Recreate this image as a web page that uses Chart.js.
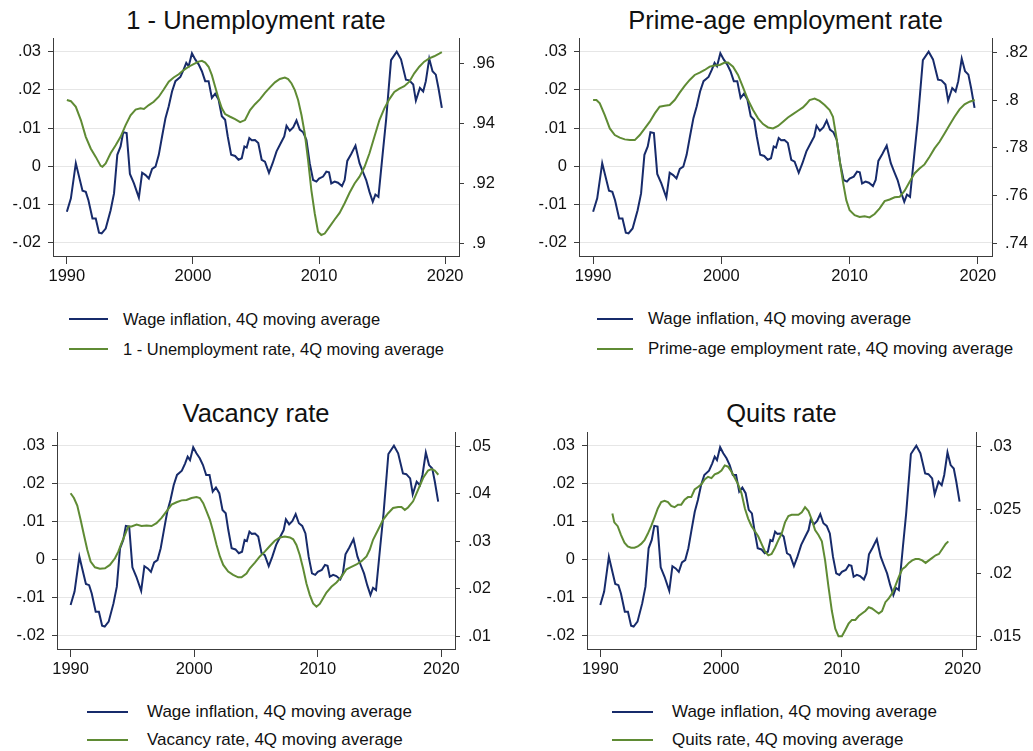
<!DOCTYPE html>
<html>
<head>
<meta charset="utf-8">
<title>Wage inflation and labour market slack</title>
<script src="https://cdn.jsdelivr.net/npm/chart.js@4.4.1/dist/chart.umd.min.js"></script>
<style>
  html, body { margin: 0; padding: 0; background: #fff; overflow: hidden; }
  body { width: 1033px; height: 751px; position: relative;
         font-family: "Liberation Sans", Arial, Helvetica, sans-serif; color: #111; }
  canvas { position: absolute; }
  .title { position: absolute; font-size: 25.5px; line-height: 25px; white-space: nowrap;
           transform: translateX(-50%); }
  .leg-row { position: absolute; height: 30px; display: flex; align-items: center;
             white-space: nowrap; }
  .leg-row .sw { display: inline-block; height: 2px; flex: none; }
</style>
</head>
<body>
<script>
// ---- data: 4-quarter moving averages, dates in decimal years ----
const wageYears = [1990.00,1990.32,1990.71,1991.24,1991.50,1991.71,1992.03,1992.29,1992.55,1992.76,
  1993.08,1993.47,1993.74,1994.00,1994.26,1994.47,1994.74,1995.00,1995.32,1995.71,
  1995.97,1996.24,1996.50,1996.76,1997.03,1997.29,1997.55,1997.82,1998.08,1998.34,
  1998.61,1999.00,1999.26,1999.47,1999.66,1999.92,2000.18,2000.45,2000.71,2000.97,
  2001.24,2001.50,2001.76,2002.03,2002.29,2002.55,2002.76,2003.03,2003.34,2003.61,
  2003.87,2004.08,2004.26,2004.47,2004.66,2004.92,2005.18,2005.45,2005.71,2006.03,
  2006.32,2006.63,2006.97,2007.24,2007.42,2007.68,2007.95,2008.21,2008.47,2008.74,
  2009.00,2009.26,2009.53,2009.79,2010.00,2010.32,2010.58,2010.79,2010.97,2011.24,
  2011.50,2011.82,2012.03,2012.24,2012.55,2012.89,2013.21,2013.47,2013.74,2014.00,
  2014.26,2014.47,2014.71,2015.05,2015.32,2015.71,2016.16,2016.50,2016.89,2017.16,
  2017.47,2017.68,2018.00,2018.26,2018.47,2018.74,2019.00,2019.26,2019.47,2019.74];
const wageValues = [-0.0119,-0.0084,0.0008,-0.0064,-0.0067,-0.0089,-0.0137,-0.0137,-0.0174,-0.0176,
  -0.0163,-0.0115,-0.0071,0.0030,0.0052,0.0089,0.0087,-0.0020,-0.0045,-0.0082,
  -0.0017,-0.0023,-0.0032,-0.0007,-0.0001,0.0030,0.0078,0.0126,0.0157,0.0196,
  0.0223,0.0234,0.0253,0.0271,0.0262,0.0296,0.0280,0.0267,0.0249,0.0223,
  0.0223,0.0179,0.0190,0.0175,0.0131,0.0122,0.0078,0.0030,0.0027,0.0017,
  0.0021,0.0052,0.0049,0.0074,0.0068,0.0069,0.0061,0.0017,0.0012,-0.0017,
  0.0008,0.0039,0.0061,0.0078,0.0106,0.0093,0.0102,0.0120,0.0096,0.0089,
  0.0069,0.0008,-0.0036,-0.0040,-0.0032,-0.0027,-0.0014,-0.0016,-0.0045,-0.0040,
  -0.0043,-0.0052,-0.0036,0.0014,0.0032,0.0054,0.0008,-0.0014,-0.0036,-0.0067,
  -0.0093,-0.0074,-0.0080,0.0034,0.0122,0.0278,0.0300,0.0280,0.0227,0.0225,
  0.0214,0.0172,0.0205,0.0196,0.0223,0.0282,0.0249,0.0240,0.0205,0.0153];

const unempYears = [1990.00,1990.32,1990.71,1991.11,1991.50,1991.89,1992.29,1992.68,1992.82,1993.08,
  1993.47,1993.87,1994.26,1994.66,1995.05,1995.45,1995.84,1996.11,1996.50,1996.89,
  1997.29,1997.68,1998.08,1998.47,1998.87,1999.26,1999.66,2000.05,2000.45,2000.71,
  2000.97,2001.24,2001.50,2001.76,2002.03,2002.29,2002.55,2002.95,2003.34,2003.74,
  2004.13,2004.53,2004.92,2005.32,2005.71,2006.11,2006.50,2006.89,2007.29,2007.55,
  2007.82,2008.08,2008.34,2008.61,2008.87,2009.13,2009.39,2009.66,2009.92,2010.18,
  2010.45,2010.84,2011.24,2011.63,2012.03,2012.42,2012.82,2013.21,2013.61,2014.00,
  2014.39,2014.79,2015.18,2015.58,2015.97,2016.37,2016.76,2017.16,2017.55,2017.95,
  2018.34,2018.74,2019.13,2019.53,2019.74];
const unempValues = [0.9478,0.9474,0.9455,0.9411,0.9355,0.9316,0.9288,0.9258,0.9255,0.9266,
  0.9300,0.9327,0.9355,0.9394,0.9427,0.9446,0.9450,0.9448,0.9461,0.9472,
  0.9489,0.9513,0.9539,0.9553,0.9564,0.9578,0.9589,0.9598,0.9606,0.9609,
  0.9603,0.9589,0.9561,0.9522,0.9483,0.9450,0.9431,0.9422,0.9414,0.9404,
  0.9411,0.9444,0.9464,0.9481,0.9502,0.9520,0.9537,0.9548,0.9553,0.9548,
  0.9533,0.9511,0.9478,0.9427,0.9366,0.9277,0.9177,0.9099,0.9038,0.9027,
  0.9032,0.9055,0.9079,0.9101,0.9133,0.9168,0.9199,0.9222,0.9255,0.9300,
  0.9355,0.9411,0.9450,0.9481,0.9505,0.9516,0.9524,0.9539,0.9567,0.9589,
  0.9606,0.9617,0.9624,0.9633,0.9638];

const primeYears = [1990.00,1990.26,1990.52,1990.91,1991.30,1991.69,1992.08,1992.47,1992.86,1993.25,
  1993.64,1994.03,1994.42,1994.81,1995.19,1995.58,1995.97,1996.36,1996.75,1997.14,
  1997.53,1997.92,1998.31,1998.70,1999.09,1999.48,1999.87,2000.26,2000.52,2000.91,
  2001.30,2001.69,2002.08,2002.47,2002.86,2003.25,2003.64,2004.03,2004.42,2004.81,
  2005.19,2005.58,2005.97,2006.36,2006.62,2006.88,2007.27,2007.66,2008.05,2008.44,
  2008.70,2008.96,2009.22,2009.48,2009.74,2010.00,2010.39,2010.78,2011.17,2011.56,
  2011.95,2012.34,2012.73,2013.12,2013.51,2013.90,2014.29,2014.68,2015.06,2015.45,
  2015.84,2016.23,2016.62,2017.01,2017.40,2017.79,2018.18,2018.57,2018.96,2019.35,
  2019.75];
const primeValues = [0.8000,0.8000,0.7986,0.7937,0.7881,0.7853,0.7842,0.7835,0.7832,0.7832,
  0.7853,0.7881,0.7909,0.7944,0.7972,0.7976,0.7979,0.8000,0.8031,0.8059,
  0.8084,0.8105,0.8115,0.8126,0.8140,0.8145,0.8147,0.8157,0.8157,0.8140,
  0.8105,0.8053,0.8000,0.7958,0.7923,0.7899,0.7885,0.7881,0.7891,0.7909,
  0.7927,0.7941,0.7955,0.7969,0.7983,0.8000,0.8006,0.7996,0.7979,0.7958,
  0.7930,0.7846,0.7748,0.7657,0.7580,0.7538,0.7517,0.7510,0.7513,0.7508,
  0.7522,0.7546,0.7576,0.7583,0.7592,0.7594,0.7620,0.7657,0.7692,0.7713,
  0.7730,0.7762,0.7797,0.7825,0.7860,0.7895,0.7930,0.7961,0.7982,0.7993,
  0.8000];

const vacancyYears = [1990.00,1990.27,1990.54,1990.81,1991.08,1991.35,1991.62,1991.97,1992.37,1992.78,
  1993.18,1993.59,1993.86,1994.12,1994.39,1994.66,1994.93,1995.34,1995.74,1996.15,
  1996.55,1996.95,1997.36,1997.76,1998.17,1998.57,1998.98,1999.38,1999.78,2000.19,
  2000.46,2000.73,2001.00,2001.27,2001.54,2001.81,2002.08,2002.35,2002.75,2003.15,
  2003.56,2003.83,2004.23,2004.50,2004.91,2005.31,2005.71,2006.12,2006.52,2006.93,
  2007.33,2007.74,2008.01,2008.27,2008.54,2008.81,2009.08,2009.35,2009.62,2009.89,
  2010.16,2010.43,2010.70,2011.10,2011.51,2011.91,2012.32,2012.72,2013.13,2013.53,
  2013.94,2014.20,2014.47,2014.88,2015.28,2015.69,2016.09,2016.50,2016.77,2017.04,
  2017.30,2017.71,2018.11,2018.52,2018.92,2019.19,2019.46,2019.75];
const vacancyValues = [0.0401,0.0391,0.0375,0.0345,0.0313,0.0282,0.0257,0.0245,0.0242,0.0243,
  0.0250,0.0264,0.0278,0.0296,0.0313,0.0331,0.0331,0.0335,0.0332,0.0333,
  0.0332,0.0338,0.0349,0.0363,0.0377,0.0382,0.0386,0.0387,0.0391,0.0393,
  0.0391,0.0380,0.0363,0.0345,0.0320,0.0292,0.0268,0.0250,0.0236,0.0229,
  0.0224,0.0224,0.0232,0.0243,0.0255,0.0268,0.0278,0.0290,0.0301,0.0308,
  0.0310,0.0308,0.0304,0.0292,0.0271,0.0243,0.0211,0.0187,0.0169,0.0162,
  0.0168,0.0180,0.0192,0.0204,0.0213,0.0225,0.0241,0.0246,0.0251,0.0258,
  0.0268,0.0282,0.0303,0.0324,0.0345,0.0359,0.0370,0.0372,0.0372,0.0366,
  0.0371,0.0384,0.0408,0.0433,0.0449,0.0452,0.0449,0.0440];

const quitsYears = [1991.00,1991.16,1991.44,1991.72,1992.00,1992.27,1992.55,1992.83,1993.10,1993.38,
  1993.66,1993.93,1994.21,1994.49,1994.76,1995.04,1995.32,1995.60,1995.87,1996.15,
  1996.43,1996.70,1996.98,1997.26,1997.53,1997.81,1998.09,1998.37,1998.64,1998.92,
  1999.20,1999.47,1999.75,2000.03,2000.30,2000.58,2000.86,2001.14,2001.41,2001.69,
  2001.97,2002.24,2002.52,2002.80,2003.07,2003.35,2003.63,2003.91,2004.18,2004.46,
  2004.74,2005.01,2005.29,2005.57,2005.84,2006.12,2006.40,2006.68,2006.95,2007.23,
  2007.51,2007.78,2008.06,2008.34,2008.61,2008.89,2009.17,2009.45,2009.72,2010.00,
  2010.28,2010.55,2010.83,2011.11,2011.39,2011.66,2011.94,2012.22,2012.49,2012.77,
  2013.05,2013.32,2013.60,2013.88,2014.16,2014.43,2014.71,2014.99,2015.26,2015.54,
  2015.82,2016.09,2016.37,2016.65,2016.93,2017.20,2017.48,2017.76,2018.03,2018.31,
  2018.59,2018.81];
const quitsValues = [0.0247,0.0240,0.0237,0.0230,0.0224,0.0221,0.0220,0.0220,0.0221,0.0223,
  0.0226,0.0231,0.0237,0.0244,0.0251,0.0256,0.0257,0.0256,0.0253,0.0252,
  0.0254,0.0254,0.0258,0.0260,0.0260,0.0266,0.0268,0.0270,0.0274,0.0276,
  0.0275,0.0278,0.0279,0.0281,0.0285,0.0284,0.0280,0.0275,0.0270,0.0263,
  0.0251,0.0243,0.0237,0.0233,0.0229,0.0223,0.0217,0.0214,0.0215,0.0220,
  0.0226,0.0231,0.0240,0.0245,0.0246,0.0246,0.0246,0.0248,0.0252,0.0249,
  0.0242,0.0234,0.0230,0.0225,0.0210,0.0189,0.0170,0.0156,0.0150,0.0150,
  0.0155,0.0160,0.0163,0.0163,0.0166,0.0168,0.0170,0.0173,0.0172,0.0170,
  0.0168,0.0170,0.0177,0.0180,0.0184,0.0190,0.0197,0.0203,0.0205,0.0208,
  0.0210,0.0211,0.0211,0.0210,0.0208,0.0210,0.0212,0.0214,0.0215,0.0219,
  0.0223,0.0225];

// ---- axis ticks ----
const yearTicks = [1990, 2000, 2010, 2020];
const wageTicks = [-0.02, -0.01, 0, 0.01, 0.02, 0.03];
const unempTicks = [0.90, 0.92, 0.94, 0.96];
const primeTicks = [0.74, 0.76, 0.78, 0.80, 0.82];
const vacancyTicks = [0.01, 0.02, 0.03, 0.04, 0.05];
const quitsTicks = [0.015, 0.020, 0.025, 0.030];

const wageLabel = 'Wage inflation, 4Q moving average';

// ---- styling ----
const NAVY = '#172b6b';
const GREEN = '#5f8b34';
const AXIS = '#3c3c3c';
const GRID = '#e6e6e6';
const FONT = '"Liberation Sans", Arial, Helvetica, sans-serif';

// Stata-style number labels: no leading zero, no trailing zeros
function fmt(v) {
  const s = String(+Number(v).toFixed(4));
  return s.replace(/^(-?)0\./, '$1.');
}
function zip(xs, ys) { return xs.map((x, i) => ({ x: x, y: ys[i] })); }

const panels = [
  { title: '1 - Unemployment rate', titleBase: 29,
    canvas: { x: 0, y: 0, w: 516, h: 296 }, area: { l: 53, r: 459, t: 38, b: 256 },
    years: unempYears, values: unempValues, ticks: unempTicks, rmin: 0.8957, rmax: 0.9685,
    label: '1 - Unemployment rate, 4Q moving average',
    legend: { lineX: 69, lineW: 39, textX: 123, rows: [319, 349], font: 16.5 } },
  { title: 'Prime-age employment rate', titleBase: 29,
    canvas: { x: 520, y: 0, w: 513, h: 296 }, area: { l: 579, r: 992, t: 38, b: 256 },
    years: primeYears, values: primeValues, ticks: primeTicks, rmin: 0.7346, rmax: 0.8260,
    label: 'Prime-age employment rate, 4Q moving average',
    legend: { lineX: 597, lineW: 36, textX: 648, rows: [318.5, 349], font: 16.9 } },
  { title: 'Vacancy rate', titleBase: 422.7,
    canvas: { x: 0, y: 390, w: 516, h: 300 }, area: { l: 57, r: 455, t: 432, b: 649 },
    years: vacancyYears, values: vacancyValues, ticks: vacancyTicks, rmin: 0.0073, rmax: 0.0530,
    label: 'Vacancy rate, 4Q moving average',
    legend: { lineX: 87, lineW: 41, textX: 147, rows: [711.7, 740], font: 17 } },
  { title: 'Quits rate', titleBase: 422.7,
    canvas: { x: 520, y: 390, w: 513, h: 300 }, area: { l: 587, r: 976, t: 432, b: 649 },
    years: quitsYears, values: quitsValues, ticks: quitsTicks, rmin: 0.0140, rmax: 0.03114,
    label: 'Quits rate, 4Q moving average',
    legend: { lineX: 612, lineW: 41, textX: 672, rows: [711.7, 740], font: 17 } }
];

function setTicks(list) {
  return function (scale) { scale.ticks = list.map(v => ({ value: v })); };
}

panels.forEach(function (p) {
  // title centred over the plot region
  const t = document.createElement('div');
  t.className = 'title';
  t.textContent = p.title;
  t.style.left = ((p.area.l + p.area.r) / 2) + 'px';
  t.style.top = (p.titleBase - 21.4) + 'px';
  document.body.appendChild(t);

  // chart canvas
  const c = p.canvas, a = p.area;
  const cv = document.createElement('canvas');
  cv.width = c.w; cv.height = c.h;
  cv.style.left = c.x + 'px'; cv.style.top = c.y + 'px';
  cv.style.width = c.w + 'px'; cv.style.height = c.h + 'px';
  document.body.appendChild(cv);

  const leftW = a.l - c.x, rightW = c.x + c.w - a.r;
  const topPad = a.t - c.y, bottomH = c.y + c.h - a.b;
  const tickFont = { family: FONT, size: 16.5 };

  new Chart(cv, {
    type: 'line',
    data: {
      datasets: [
        { label: wageLabel, data: zip(wageYears, wageValues), yAxisID: 'y',
          borderColor: NAVY, borderWidth: 2, pointRadius: 0, tension: 0, order: 1 },
        { label: p.label, data: zip(p.years, p.values), yAxisID: 'y1',
          borderColor: GREEN, borderWidth: 2, pointRadius: 0, tension: 0, order: 0 }
      ]
    },
    options: {
      responsive: false, animation: false, events: [],
      layout: { padding: { top: topPad, left: 0, right: 0, bottom: 0 } },
      plugins: { legend: { display: false }, title: { display: false }, tooltip: { enabled: false } },
      scales: {
        x: {
          type: 'linear', min: 1988.9, max: 2021.1,
          afterBuildTicks: setTicks(yearTicks),
          afterFit: s => { s.height = bottomH; },
          grid: { drawOnChartArea: false, tickColor: AXIS, tickLength: 8, lineWidth: 1 },
          border: { color: AXIS, width: 1 },
          ticks: { font: tickFont, color: '#111', padding: 3, autoSkip: false, maxRotation: 0,
                   callback: v => String(v) }
        },
        y: {
          position: 'left', min: -0.0235, max: 0.0336,
          afterBuildTicks: setTicks(wageTicks),
          afterFit: s => { s.width = leftW; },
          grid: { color: GRID, lineWidth: 1, tickColor: AXIS, tickLength: 5 },
          border: { color: AXIS, width: 1 },
          ticks: { font: tickFont, color: '#111', padding: 7, autoSkip: false, callback: fmt }
        },
        y1: {
          position: 'right', min: p.rmin, max: p.rmax,
          afterBuildTicks: setTicks(p.ticks),
          afterFit: s => { s.width = rightW; },
          grid: { drawOnChartArea: false, tickColor: AXIS, tickLength: 5 },
          border: { color: AXIS, width: 1 },
          ticks: { font: tickFont, color: '#111', padding: 8, autoSkip: false, callback: fmt }
        }
      }
    }
  });

  // legend: two stacked rows
  [[wageLabel, NAVY], [p.label, GREEN]].forEach(function (item, i) {
    const row = document.createElement('div');
    row.className = 'leg-row';
    row.style.left = p.legend.lineX + 'px';
    row.style.top = (p.legend.rows[i] - 15) + 'px';
    row.style.fontSize = p.legend.font + 'px';
    const sw = document.createElement('span');
    sw.className = 'sw';
    sw.style.width = p.legend.lineW + 'px';
    sw.style.background = item[1];
    sw.style.marginRight = (p.legend.textX - p.legend.lineX - p.legend.lineW) + 'px';
    const tx = document.createElement('span');
    tx.textContent = item[0];
    row.appendChild(sw);
    row.appendChild(tx);
    document.body.appendChild(row);
  });
});
</script>
</body>
</html>
